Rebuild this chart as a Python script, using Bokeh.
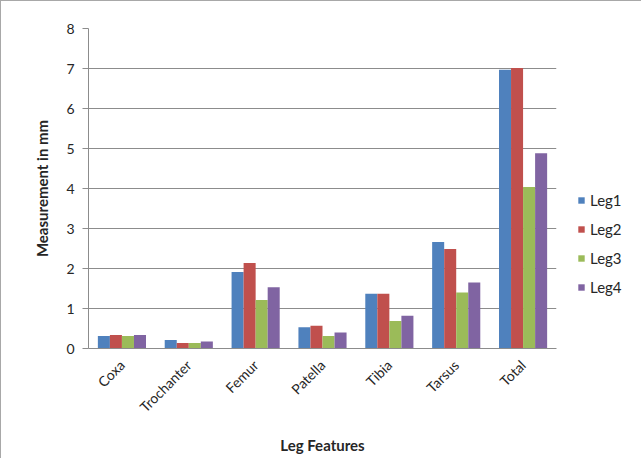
import math
from bokeh.plotting import figure
from bokeh.models import ColumnDataSource, Legend, LegendItem, FixedTicker
from bokeh.transform import dodge
from bokeh.embed import file_html
from bokeh.resources import INLINE

categories = ["Coxa", "Trochanter", "Femur", "Patella", "Tibia", "Tarsus", "Total"]
leg1 = [0.31, 0.21, 1.91, 0.53, 1.37, 2.66, 6.97]
leg2 = [0.34, 0.14, 2.14, 0.57, 1.37, 2.49, 7.01]
leg3 = [0.31, 0.14, 1.21, 0.31, 0.69, 1.40, 4.04]
leg4 = [0.34, 0.175, 1.53, 0.40, 0.82, 1.65, 4.88]
series_names = ["Leg1", "Leg2", "Leg3", "Leg4"]
colors = ["#4F81BD", "#C0504D", "#9BBB59", "#8064A2"]
y_ticks = [0, 1, 2, 3, 4, 5, 6, 7, 8]

source = ColumnDataSource(dict(cat=categories, Leg1=leg1, Leg2=leg2, Leg3=leg3, Leg4=leg4))

FONT = "Lato"
TXT = "#262626"

p = figure(x_range=categories, y_range=(0, 8), frame_width=468, frame_height=320,
           output_backend="svg", toolbar_location=None,
           min_border_left=87, min_border_top=27, min_border_right=0, min_border_bottom=110)
p.styles = {"border-left": "1px solid #a8a8a8", "border-top": "1px solid #a8a8a8"}
p.outline_line_color = None
p.background_fill_color = "white"
p.border_fill_color = "white"

bw = 0.18
offsets = [-0.27, -0.09, 0.09, 0.27]
renderers = []
for name, col, off in zip(series_names, colors, offsets):
    r = p.vbar(x=dodge("cat", off, range=p.x_range), top=name, width=bw, source=source,
               fill_color=col, line_color=None)
    renderers.append(r)

# grid
p.xgrid.grid_line_color = None
p.ygrid.grid_line_color = "#8c8c8c"
p.ygrid.grid_line_width = 1
p.yaxis.ticker = FixedTicker(ticks=y_ticks)

# y axis
p.yaxis.axis_line_color = "#8c8c8c"
p.yaxis.major_tick_line_color = "#8c8c8c"
p.yaxis.major_tick_out = 6
p.yaxis.major_tick_in = 0
p.yaxis.minor_tick_line_color = None
p.yaxis.major_label_text_font = FONT
p.yaxis.major_label_text_font_size = "14px"
p.yaxis.major_label_text_color = TXT
p.yaxis.major_label_standoff = 8
p.yaxis.axis_label = "Measurement in mm"
p.yaxis.axis_label_text_font = FONT
p.yaxis.axis_label_text_font_style = "bold"
p.yaxis.axis_label_text_font_size = "15px"
p.yaxis.axis_label_text_color = TXT
p.yaxis.axis_label_standoff = 12

# x axis
p.xaxis.axis_line_color = "#8c8c8c"
p.xaxis.major_tick_line_color = None
p.xaxis.minor_tick_line_color = None
p.xaxis.major_label_orientation = math.pi / 4
p.xaxis.major_label_text_font = FONT
p.xaxis.major_label_text_font_size = "14px"
p.xaxis.major_label_text_color = TXT
p.xaxis.major_label_standoff = 8
p.xaxis.axis_label = "Leg Features"
p.xaxis.axis_label_text_font = FONT
p.xaxis.axis_label_text_font_style = "bold"
p.xaxis.axis_label_text_font_size = "15px"
p.xaxis.axis_label_text_color = TXT
p.xaxis.axis_label_standoff = 12

legend = Legend(items=[LegendItem(label=n, renderers=[r]) for n, r in zip(series_names, renderers)],
                location=(21, 51))
legend.border_line_color = None
legend.background_fill_alpha = 0
legend.glyph_width = 8
legend.glyph_height = 8
legend.label_height = 20
legend.spacing = 9
legend.padding = 0
legend.margin = 0
legend.label_text_font = FONT
legend.label_text_font_size = "15px"
legend.label_text_color = TXT
legend.label_standoff = 5
p.add_layout(legend, "right")

open("out.html", "w").write(file_html(p, INLINE))
